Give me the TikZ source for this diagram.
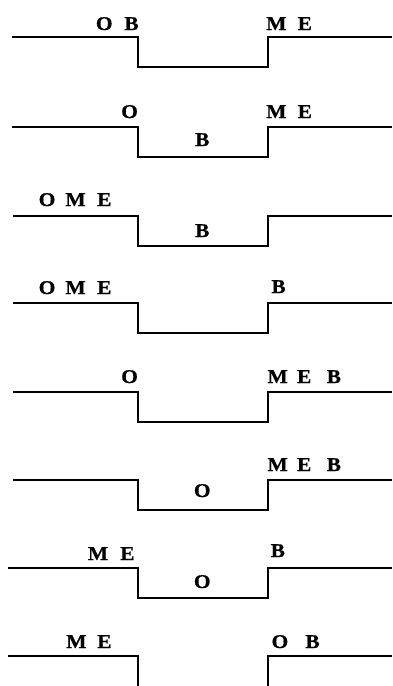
\documentclass[tikz,border=0pt]{standalone}
\usepackage{fontspec}
\newfontfamily\labfont{Liberation Serif}[BoldFeatures={FakeStretch=1.1,FakeBold=0.6}]
\begin{document}
\begin{tikzpicture}[x=1pt,y=-1pt,
  prof/.style={line width=1.7pt, line join=miter},
  lab/.style={inner sep=0pt, anchor=base west, font=\fontsize{19.5}{21}\selectfont\labfont\bfseries}]
\useasboundingbox (0,0) rectangle (392,686);
% profiles
\foreach \y/\xs in {37/12,127/12,216/13,303/13,392/13,480/13,568/8}
  \draw[prof] (\xs,\y) -- (138,\y) -- (138,\y+30) -- (268,\y+30) -- (268,\y) -- (392,\y);
\draw[prof] (8,656) -- (138,656) -- (138,686);
\draw[prof] (268,686) -- (268,656) -- (392,656);
% row 1
\node[lab] (r1a) at (95.7,30) {O\hspace{11.8pt}B};
\node[lab] (r1b) at (266,30) {M\hspace{11.2pt}E};
% row 2
\node[lab] (r2a) at (121,118) {O};
\node[lab] (r2b) at (266,118) {M\hspace{11.2pt}E};
\node[lab] (r2c) at (194.9,146) {B};
% row 3
\node[lab] (r3a) at (38.5,206) {O\hspace{10pt}M\hspace{11.5pt}E};
\node[lab] (r3c) at (194.9,237) {B};
% row 4
\node[lab] (r4a) at (38.5,294) {O\hspace{10pt}M\hspace{11.5pt}E};
\node[lab] (r4b) at (271.2,293) {B};
% row 5
\node[lab] (r5a) at (121,383) {O};
\node[lab] (r5b) at (267.4,383) {M\hspace{9.2pt}E\hspace{15.4pt}B};
% row 6
\node[lab] (r6b) at (267.4,471) {M\hspace{9.2pt}E\hspace{15.4pt}B};
\node[lab] (r6c) at (193.7,497) {O};
% row 7
\node[lab] (r7a) at (87.7,560) {M\hspace{12.1pt}E};
\node[lab] (r7b) at (270.5,557) {B};
\node[lab] (r7c) at (193.7,588) {O};
% row 8
\node[lab] (r8a) at (66.1,648) {M\hspace{10.7pt}E};
\node[lab] (r8b) at (271.4,648) {O\hspace{17.1pt}B};
\end{tikzpicture}
\end{document}
